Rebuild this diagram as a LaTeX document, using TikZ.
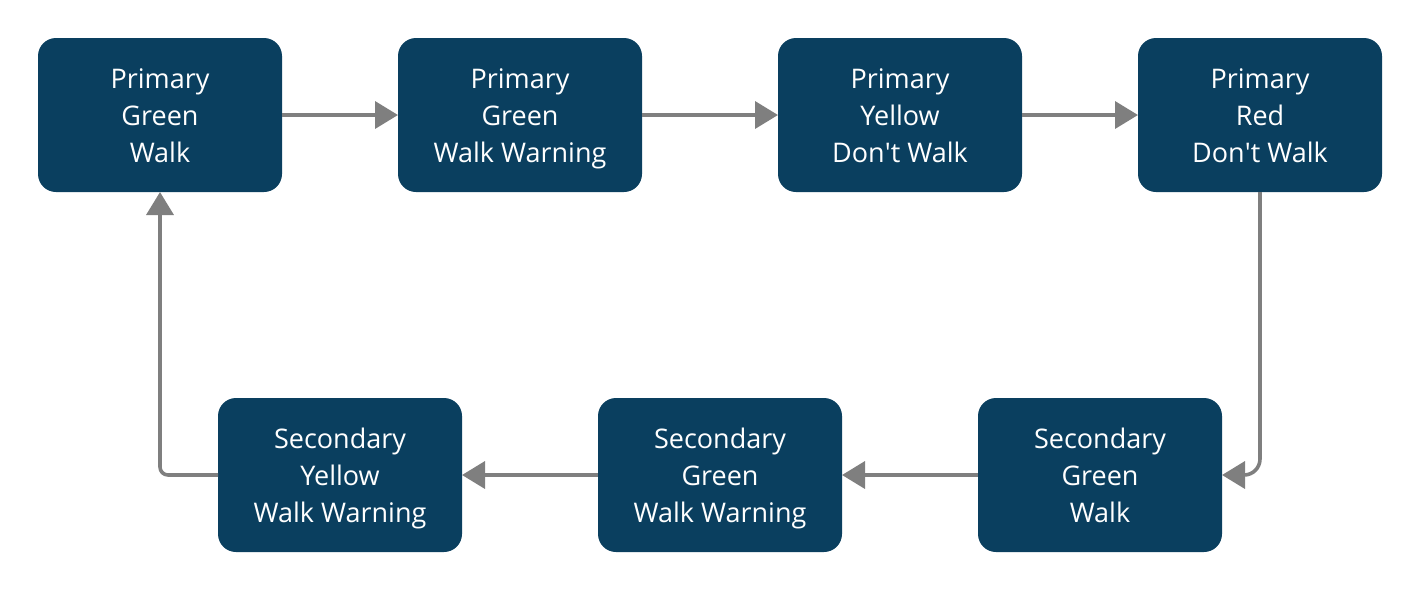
\documentclass[tikz,border=0pt]{standalone}
\usepackage{fontspec}
\setmainfont{Open Sans}
\usepackage{xcolor}
\usetikzlibrary{positioning, arrows.meta}
\definecolor{stateblue}{HTML}{0A3F5F}
\definecolor{linegray}{HTML}{7F7F7F}
\newcommand{\threelines}[3]{\rule{0pt}{16.3pt}#1\\#2\\#3\strut}

\begin{document}
\begin{tikzpicture}[>={Triangle[length=11.5pt, width=13.5pt]},
  state/.style={draw=none, fill=stateblue, text=white, rounded corners=9pt, outer sep=0pt, minimum width=122pt, minimum height=77pt, align=center, font=\fontsize{13.5pt}{18.5pt}\selectfont},
  flow/.style={->, draw=linegray, line width=1.8pt}]
\useasboundingbox (0,0) rectangle (710pt,-295.5pt);
\node (pgw) [state] at (80pt,-57.5pt) {\threelines{Primary}{Green}{Walk}};
\node (pgww) [state, right=58pt of pgw] {\threelines{Primary}{Green}{Walk Warning}};
\node (pydw) [state, right=68pt of pgww] {\threelines{Primary}{Yellow}{Don\textquotesingle t Walk}};
\node (prdw) [state, right=58pt of pydw] {\threelines{Primary}{Red}{Don\textquotesingle t Walk}};
\node (sgw) [state, below=103pt of prdw, xshift=-80pt] {\threelines{Secondary}{Green}{Walk}};
\node (sgww) [state, left=68pt of sgw] {\threelines{Secondary}{Green}{Walk Warning}};
\node (syww) [state, left=68pt of sgww] {\threelines{Secondary}{Yellow}{Walk Warning}};
\draw [flow] (pgw)--(pgww);
\draw [flow] (pgww)--(pydw);
\draw [flow] (pydw)--(prdw);
\draw [flow, rounded corners=8pt] (prdw.south)|-(sgw.east);
\draw [flow] (sgw)--(sgww);
\draw [flow] (sgww)--(syww);
\draw [flow, rounded corners=4pt] (syww.west)-|(pgw.south);
\end{tikzpicture}
\end{document}
